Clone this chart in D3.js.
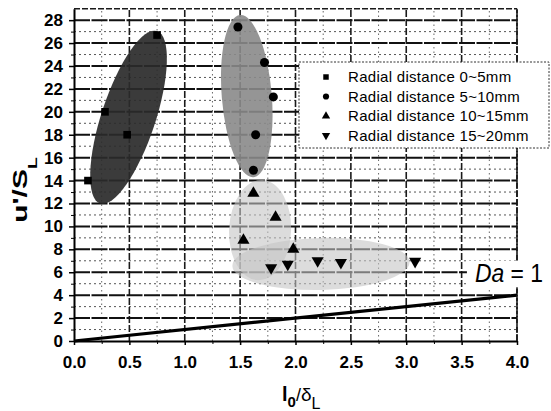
<!DOCTYPE html>
<html>
<head>
<meta charset="utf-8">
<script src="https://cdn.jsdelivr.net/npm/d3@7"></script>
<style>
  html, body { margin: 0; padding: 0; background: #fff; }
  svg { display: block; }
</style>
</head>
<body>
<svg id="chart" width="551" height="411"></svg>
<script>
// ---- axis ticks ----
const xMajorTicks = [0.0, 0.5, 1.0, 1.5, 2.0, 2.5, 3.0, 3.5, 4.0];
const xMinorTicks = [0.25, 0.75, 1.25, 1.75, 2.25, 2.75, 3.25, 3.75];
const yMajorTicks = [0, 2, 4, 6, 8, 10, 12, 14, 16, 18, 20, 22, 24, 26, 28];
const yMinorTicks = [1, 3, 5, 7, 9, 11, 13, 15, 17, 19, 21, 23, 25, 27];
const xDomain = [0, 4];
const yDomain = [0, 29];

// ---- measured points: l0/δL (x) and u'/SL (y) per radial band ----
const seriesLabels = [
  "Radial distance 0~5mm",
  "Radial distance 5~10mm",
  "Radial distance 10~15mm",
  "Radial distance 15~20mm"
];
const band0to5X   = [0.126, 0.28, 0.48, 0.75];
const band0to5Y   = [14.0, 20.0, 18.0, 26.7];
const band5to10X  = [1.48, 1.72, 1.80, 1.64, 1.62];
const band5to10Y  = [27.4, 24.3, 21.3, 18.0, 14.9];
const band10to15X = [1.62, 1.82, 1.53, 1.98];
const band10to15Y = [12.9, 10.8, 8.8, 8.0];
const band15to20X = [1.78, 1.93, 2.20, 2.41, 3.08];
const band15to20Y = [6.4, 6.7, 7.0, 6.85, 6.95];

// ---- Damköhler number Da = 1 boundary ----
const daLineX = [0, 4];
const daLineY = [0, 4];
const daLabelAt = [3.62, 5.15];

// ---- shaded envelope of each band: major-axis end points (data units) ----
const envStartX = [0.235, 1.50, 1.70, 1.43];
const envStartY = [12.0, 28.45, 14.05, 6.55];
const envEndX   = [0.75, 1.62, 1.66, 3.03];
const envEndY   = [27.05, 14.3, 5.3, 6.9];

// ---- styling ----
const FONT = "'Liberation Sans', Arial, Helvetica, sans-serif";
const envSemiMinor = [27, 25, 31, 26];
const envFill = ["#2a2a2a", "#8a8a8a", "#c4c4c4", "#c4c4c4"];
const envOpacity = [0.92, 0.9, 0.6, 0.6];

const svg = d3.select("#chart");
svg.append("rect").attr("width", 551).attr("height", 411).attr("fill", "#fff");

const x = d3.scaleLinear().domain(xDomain).range([74, 517]);
const y = d3.scaleLinear().domain(yDomain).range([341, 8.7]);

// ---- grid ----
const grid = svg.append("g");
grid.selectAll("line.ymin").data(yMinorTicks).join("line")
  .attr("x1", x(0)).attr("x2", x(4))
  .attr("y1", d => y(d)).attr("y2", d => y(d))
  .attr("stroke", "#555").attr("stroke-width", 1).attr("stroke-dasharray", "2,3");
grid.selectAll("line.xmin").data(xMinorTicks).join("line")
  .attr("y1", y(0)).attr("y2", y(29))
  .attr("x1", d => x(d)).attr("x2", d => x(d))
  .attr("stroke", "#666").attr("stroke-width", 1).attr("stroke-dasharray", "1.5,3");
grid.selectAll("line.xmaj").data(xMajorTicks.filter(d => d > 0)).join("line")
  .attr("y1", y(0)).attr("y2", y(29))
  .attr("x1", d => x(d)).attr("x2", d => x(d))
  .attr("stroke", "#1a1a1a").attr("stroke-width", 1.6).attr("stroke-dasharray", "7,2");
grid.selectAll("line.ymaj").data(yMajorTicks.filter(d => d > 0)).join("line")
  .attr("x1", x(0)).attr("x2", x(4))
  .attr("y1", d => y(d)).attr("y2", d => y(d))
  .attr("stroke", "#111").attr("stroke-width", 2).attr("stroke-dasharray", "16,1.5");
// top frame line
grid.append("line")
  .attr("x1", x(0)).attr("x2", x(4)).attr("y1", y(29)).attr("y2", y(29))
  .attr("stroke", "#1a1a1a").attr("stroke-width", 1.6).attr("stroke-dasharray", "6,2");

// ---- shaded envelopes ----
const envG = svg.append("g");
envStartX.forEach((sx, i) => {
  const x1 = x(sx), y1 = y(envStartY[i]);
  const x2 = x(envEndX[i]), y2 = y(envEndY[i]);
  const cx = (x1 + x2) / 2, cy = (y1 + y2) / 2;
  const a = Math.hypot(x2 - x1, y2 - y1) / 2;
  const ang = Math.atan2(y2 - y1, x2 - x1) * 180 / Math.PI;
  envG.append("ellipse")
    .attr("cx", 0).attr("cy", 0)
    .attr("rx", a).attr("ry", envSemiMinor[i])
    .attr("transform", `translate(${cx},${cy}) rotate(${ang})`)
    .attr("fill", envFill[i]).attr("fill-opacity", envOpacity[i]);
});

// ---- Da = 1 line ----
svg.append("path")
  .datum(daLineX.map((d, i) => [d, daLineY[i]]))
  .attr("d", d3.line().x(d => x(d[0])).y(d => y(d[1])))
  .attr("fill", "none").attr("stroke", "#000").attr("stroke-width", 3.2);

// ---- axes ----
const yAxis = svg.append("g").attr("transform", `translate(${x(0)},0)`)
  .call(d3.axisLeft(y).tickValues(yMajorTicks).tickSize(5).tickSizeOuter(0).tickPadding(6)
    .tickFormat(d3.format("d")));
svg.append("g").attr("transform", `translate(${x(0)},0)`)
  .call(d3.axisLeft(y).tickValues(yMinorTicks).tickSize(3).tickSizeOuter(0).tickFormat(""))
  .call(g => g.select(".domain").remove());
const xAxis = svg.append("g").attr("transform", `translate(0,${y(0)})`)
  .call(d3.axisBottom(x).tickValues(xMajorTicks).tickSize(4).tickSizeOuter(0).tickPadding(11)
    .tickFormat(d3.format(".1f")));
svg.append("g").attr("transform", `translate(0,${y(0)})`)
  .call(d3.axisBottom(x).tickValues(xMinorTicks).tickSize(3).tickSizeOuter(0).tickFormat(""))
  .call(g => g.select(".domain").remove());
[yAxis, xAxis].forEach(g => {
  g.select(".domain").attr("stroke", "#000").attr("stroke-width", 2);
  g.selectAll(".tick line").attr("stroke", "#000").attr("stroke-width", 1.5);
  g.selectAll(".tick text")
    .attr("fill", "#000").style("font-family", FONT)
    .style("font-size", "17px").style("font-weight", "bold");
});
// right frame line
svg.append("line")
  .attr("x1", x(4)).attr("x2", x(4)).attr("y1", y(0)).attr("y2", y(29))
  .attr("stroke", "#1a1a1a").attr("stroke-width", 1.6).attr("stroke-dasharray", "6,2");

// ---- Da = 1 label (on a white patch over the grid) ----
const daBg = svg.append("rect").attr("fill", "#fff");
const daText = svg.append("text")
  .attr("transform", `translate(${x(daLabelAt[0])},${y(daLabelAt[1])}) scale(0.88,1)`)
  .style("font-family", FONT).style("font-size", "26px").attr("fill", "#000");
daText.append("tspan").style("font-style", "italic").text("Da");
daText.append("tspan").text(" = 1");
{
  const bb = daText.node().getBBox();
  const tx = x(daLabelAt[0]), ty = y(daLabelAt[1]);
  daBg.attr("x", tx + bb.x * 0.88 - 8).attr("y", ty + bb.y + 2)
      .attr("width", bb.width * 0.88 + 16).attr("height", bb.height - 2);
}

// ---- markers ----
const shapes = [
  { type: d3.symbolSquare, rot: 0 },
  { type: d3.symbolCircle, rot: 0 },
  { type: d3.symbolTriangle, rot: 0 },
  { type: d3.symbolTriangle, rot: 180 }
];
const seriesX = [band0to5X, band5to10X, band10to15X, band15to20X];
const seriesY = [band0to5Y, band5to10Y, band10to15Y, band15to20Y];
const markG = svg.append("g");
seriesX.forEach((xs, s) => {
  markG.selectAll(null).data(xs.map((v, i) => [v, seriesY[s][i]])).join("path")
    .attr("d", d3.symbol().type(shapes[s].type).size(s === 0 ? 58 : 64))
    .attr("transform", d => `translate(${x(d[0])},${y(d[1])}) rotate(${shapes[s].rot})`)
    .attr("fill", "#000");
});

// ---- legend ----
const leg = svg.append("g");
leg.append("rect")
  .attr("x", 299).attr("y", 62).attr("width", 250).attr("height", 86)
  .attr("fill", "#fff").attr("stroke", "#333").attr("stroke-width", 1)
  .attr("stroke-dasharray", "2,1.5");
seriesLabels.forEach((lab, s) => {
  const ry = 77 + s * 19.5;
  leg.append("path")
    .attr("d", d3.symbol().type(shapes[s].type).size(30)())
    .attr("transform", `translate(326,${ry}) rotate(${shapes[s].rot})`)
    .attr("fill", "#000");
  leg.append("text")
    .attr("x", 348).attr("y", ry).attr("dy", "0.36em")
    .style("font-family", FONT).style("font-size", "15px")
    .style("letter-spacing", "0.3px")
    .attr("fill", "#000").text(lab);
});

// ---- axis titles ----
const yTitle = svg.append("text")
  .attr("transform", "translate(27,190) rotate(-90) scale(1.5,1)")
  .attr("text-anchor", "middle")
  .style("font-family", FONT).style("font-weight", "bold").attr("fill", "#000");
yTitle.append("tspan").style("font-size", "20px").text("u'/S");
yTitle.append("tspan").style("font-size", "13px").attr("dy", 10).text("L");

const xTitle = svg.append("text")
  .attr("x", 282).attr("y", 401)
  .style("font-family", FONT).attr("fill", "#000");
xTitle.append("tspan").style("font-size", "20px").style("font-weight", "bold").text("l");
xTitle.append("tspan").style("font-size", "15px").style("font-weight", "bold").attr("dy", 6).text("0");
xTitle.append("tspan").style("font-size", "18px").attr("dy", -6).text("/");
xTitle.append("tspan").style("font-size", "19px").text("δ");
xTitle.append("tspan").style("font-size", "16px").attr("dy", 8).text("L");
</script>
</body>
</html>
